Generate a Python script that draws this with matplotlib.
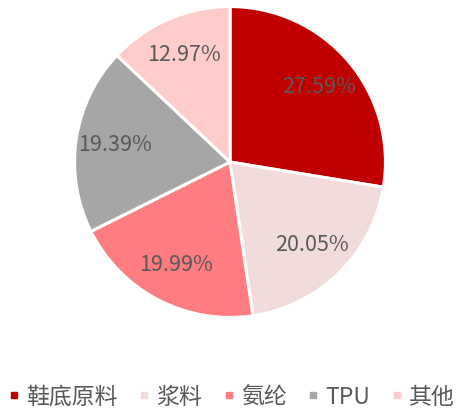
import matplotlib.pyplot as plt
from matplotlib.lines import Line2D

plt.rcParams['font.family'] = ['Noto Sans CJK SC', 'DejaVu Sans']

labels = ["鞋底原料", "浆料", "氨纶", "TPU", "其他"]
shares = [27.59, 20.05, 19.99, 19.39, 12.97]
colors = ["#C00000", "#F2DCDB", "#FF7C80", "#A6A6A6", "#FFCCCC"]
text_color = "#595959"

fig = plt.figure(figsize=(4.6, 4.12), dpi=100)
ax = fig.add_axes([73 / 460, 93 / 412, 314 / 460, 314 / 412])

ax.pie(shares, colors=colors, startangle=90, counterclock=False,
       autopct="%.2f%%", pctdistance=0.75,
       wedgeprops=dict(edgecolor="white", linewidth=2.2),
       textprops=dict(color=text_color, fontsize=15.5))
ax.set_xlim(-1.01, 1.01)
ax.set_ylim(-1.01, 1.01)
ax.set_aspect("equal")

handles = [Line2D([], [], marker="s", linestyle="", markersize=5,
                  markerfacecolor=c, markeredgecolor=c) for c in colors]
fig.legend(handles, labels, loc="center", bbox_to_anchor=(0.505, 1 - 397 / 412),
           ncol=5, frameon=False, fontsize=16.5, labelcolor=text_color,
           handletextpad=0.35, columnspacing=1.0, handlelength=0.35)

fig.savefig("out.png", dpi=100)
